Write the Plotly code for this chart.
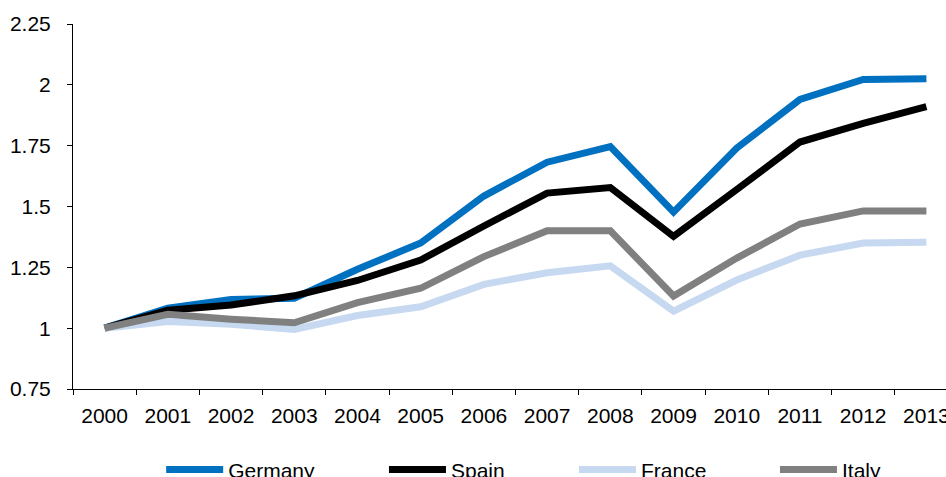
import plotly.graph_objects as go

YEARS = [str(y) for y in range(2000, 2014)]

GERMANY = [1.0, 1.082, 1.118, 1.123, 1.242, 1.350, 1.543, 1.682, 1.746, 1.477, 1.740, 1.940, 2.022, 2.025]
SPAIN = [1.0, 1.074, 1.095, 1.133, 1.196, 1.280, 1.420, 1.555, 1.578, 1.377, 1.570, 1.765, 1.842, 1.910]
FRANCE = [1.0, 1.027, 1.016, 0.995, 1.052, 1.088, 1.180, 1.228, 1.256, 1.070, 1.198, 1.300, 1.350, 1.353]
ITALY = [1.0, 1.057, 1.037, 1.022, 1.105, 1.164, 1.294, 1.400, 1.400, 1.132, 1.288, 1.428, 1.482, 1.482]

Y_TICKS = [0.75, 1.0, 1.25, 1.5, 1.75, 2.0, 2.25]
Y_LABELS = ["0.75", "1", "1.25", "1.5", "1.75", "2", "2.25"]

FONT = "Liberation Sans, Arial, sans-serif"

# legend x positions in paper units (one small legend per series, like Excel's spacing)
SERIES = [
    ("Germany", GERMANY, "#0070C0", "legend", 0.1010),
    ("Spain", SPAIN, "#000000", "legend2", 0.3562),
    ("France", FRANCE, "#C6D9F1", "legend3", 0.5739),
    ("Italy", ITALY, "#808080", "legend4", 0.8041),
]

fig = go.Figure()
for name, values, color, legend, _ in SERIES:
    fig.add_trace(
        go.Scatter(
            x=YEARS,
            y=values,
            mode="lines",
            name=name,
            legend=legend,
            line={"color": color, "width": 7},
        )
    )

legend_base = {
    "orientation": "h",
    "y": -0.165,
    "yanchor": "top",
    "xanchor": "left",
    "bgcolor": "rgba(0,0,0,0)",
    "font": {"family": FONT, "size": 21, "color": "#000000"},
    "itemwidth": 57,
}
layout_legends = {}
for name, _, _, legend, xpos in SERIES:
    layout_legends[legend] = dict(legend_base, x=xpos)

fig.update_layout(
    width=946,
    height=477,
    paper_bgcolor="white",
    plot_bgcolor="white",
    margin={"l": 73, "r": 0, "t": 24, "b": 88, "autoexpand": False},
    font={"family": FONT, "size": 21, "color": "#000000"},
    showlegend=True,
    **layout_legends,
)
fig.update_xaxes(
    type="category",
    range=[-0.5, 13.31],
    showgrid=False,
    showline=True,
    linecolor="#000000",
    linewidth=1,
    ticks="outside",
    tickson="boundaries",
    ticklen=5,
    tickcolor="#000000",
    ticklabelstandoff=8,
)
fig.update_yaxes(
    range=[0.75, 2.25],
    tickvals=Y_TICKS,
    ticktext=Y_LABELS,
    showgrid=False,
    zeroline=False,
    showline=True,
    linecolor="#000000",
    linewidth=1,
    ticks="outside",
    ticklen=5,
    tickcolor="#000000",
    ticklabelstandoff=12,
)

fig.write_html(
    "out.html",
    config={"displayModeBar": False},
    post_script="document.body.style.margin='0';document.body.style.overflow='hidden';",
)
